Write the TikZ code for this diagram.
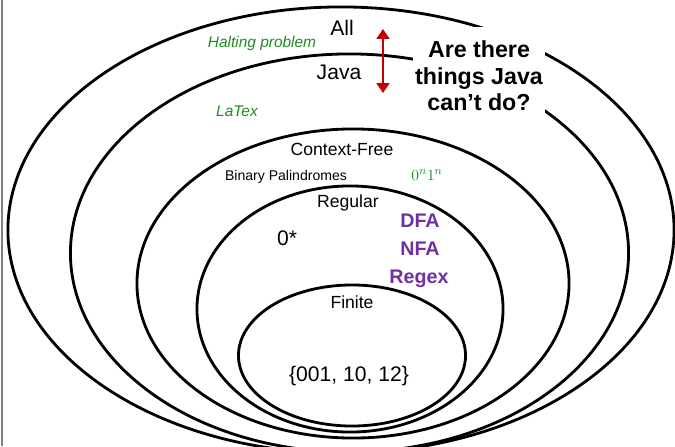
\documentclass[tikz,border=0pt]{standalone}
\usepackage{fontspec}
\setmainfont{Liberation Sans}
\usetikzlibrary{shapes.geometric, arrows.meta}
\definecolor{venngreen}{RGB}{30,140,30}
\definecolor{vennpurple}{RGB}{112,48,160}
\definecolor{vennred}{RGB}{192,0,0}

\begin{document}
\begin{tikzpicture}[
		x=0.025cm, y=-0.025cm,                  % 1 Einheit = 1 Pixel
		set/.style = {
			ellipse,
			draw,
			line width=2pt,
			inner sep=0pt
		},
		biglabel/.style = {anchor=base, inner sep=0pt, font=\fontsize{15}{18}\selectfont},
		setlabel/.style = {anchor=base, inner sep=0pt, font=\fontsize{12.5}{15}\selectfont},
		model/.style = {anchor=base, inner sep=0pt, text=vennpurple, font=\bfseries\fontsize{14}{17}\selectfont},
		scribble/.style = {anchor=base, inner sep=0pt, text=venngreen, font=\itshape\fontsize{11}{13}\selectfont}
		]
		\useasboundingbox (0,0) rectangle (675,446);
		\clip (0,0) rectangle (675,446);
		\draw[gray, line width=1pt] (2,0) -- (2,446);
		
		% Mengen - von aussen nach innen
		\node[set, minimum width=16.65cm, minimum height=11.15cm] (all) at (341,230) {};
		\node[set, minimum width=13.95cm, minimum height=9.95cm] (java) at (349.5,253) {};
		\node[set, minimum width=10.8cm, minimum height=7.725cm] (cfree) at (353,283.5) {};
		\node[set, minimum width=7.65cm, minimum height=6.15cm] (regular) at (350,309) {};
		\node[set, minimum width=5.675cm, minimum height=3.525cm] (finite) at (352,355.5) {};
		
		% Frage
		\node[fill=white, minimum width=3.3cm, minimum height=2.275cm] (cover) at (479,72.5) {};
		\node[align=center, inner sep=0pt, font=\bfseries\fontsize{16.5}{18.8}\selectfont] (question) at (479,76)
		{Are there\\ things Java\\ can’t do?};
		
		% Pfeil
		\coordinate (uptip) at (383,29);
		\coordinate (downtip) at (383,93);
		\draw[vennred, line width=2pt, {Triangle[width=9pt,length=7pt]}-{Triangle[width=9pt,length=7pt]}] (uptip) -- (downtip);
		
		% Beschriftungen
		\node[biglabel] (alllabel) at (342,36) {All};
		\node[biglabel] (javalabel) at (339,80) {Java};
		\node[setlabel] (cfreelabel) at (342,155) {Context-Free};
		\node[anchor=base, inner sep=0pt, font=\fontsize{10}{12}\selectfont] (palin) at (286,180) {Binary Palindromes};
		\node[setlabel] (regularlabel) at (348,207) {Regular};
		\node[biglabel] (zerostar) at (287,245) {0*};
		\node[model] (dfa) at (420,227) {DFA};
		\node[model] (nfa) at (420,255) {NFA};
		\node[model] (regex) at (419,283) {Regex};
		\node[setlabel] (finitelabel) at (352,308) {Finite};
		\node[biglabel] (finiteset) at (349,381) {\{001, 10, 12\}};
		
		% Handschrift
		\node[scribble] (halting) at (262,48) {Halting problem};
		\node[scribble] (latex) at (237,117) {LaTex};
		\node[scribble] (zeroone) at (427,180) {$0^n1^n$};
		
	\end{tikzpicture}
\end{document}
